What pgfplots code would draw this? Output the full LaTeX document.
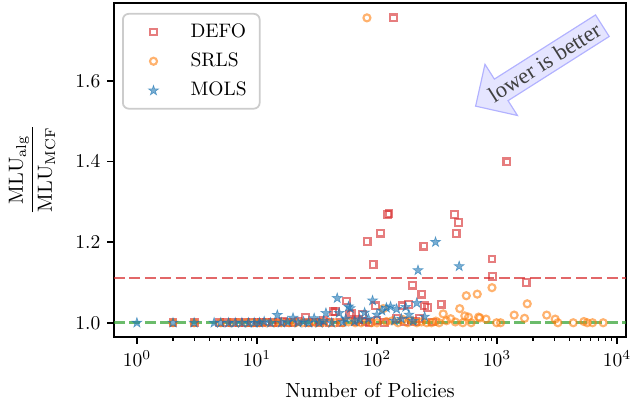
\documentclass[border=0pt]{standalone}
\usepackage{fontspec}
\newfontfamily\timesfont{Liberation Serif}
\usepackage{pgfplots}
\usepackage{pgfplotstable}
\pgfplotsset{compat=1.18}
\usetikzlibrary{shapes.arrows}
\definecolor{tabred}{HTML}{D62728}
\definecolor{taborange}{HTML}{FF7F0E}
\definecolor{tabblue}{HTML}{1F77B4}
\definecolor{tabgreen}{HTML}{2CA02C}

\pgfdeclareplotmark{fstar}{%
  \pgfpathmoveto{\pgfpointpolar{90}{\pgfplotmarksize}}%
  \pgfpathlineto{\pgfpointpolar{126}{0.382\pgfplotmarksize}}%
  \pgfpathlineto{\pgfpointpolar{162}{\pgfplotmarksize}}%
  \pgfpathlineto{\pgfpointpolar{198}{0.382\pgfplotmarksize}}%
  \pgfpathlineto{\pgfpointpolar{234}{\pgfplotmarksize}}%
  \pgfpathlineto{\pgfpointpolar{270}{0.382\pgfplotmarksize}}%
  \pgfpathlineto{\pgfpointpolar{306}{\pgfplotmarksize}}%
  \pgfpathlineto{\pgfpointpolar{342}{0.382\pgfplotmarksize}}%
  \pgfpathlineto{\pgfpointpolar{18}{\pgfplotmarksize}}%
  \pgfpathlineto{\pgfpointpolar{54}{0.382\pgfplotmarksize}}%
  \pgfpathclose
  \pgfusepathqfillstroke}

\pgfplotstableread{
x y
2 1.000
3 1.000
4.9 1.000
5.6 1.000
6.3 1.000
7.1 1.000
8 1.000
9 1.001
10 1.000
11 1.000
12 1.002
13.5 1.000
15 1.000
16.5 1.003
18 1.000
20 1.000
22 1.004
25.3 1.014
27 1.000
30 1.002
33 1.000
36 1.005
40 1.000
43 1.027
45 1.027
50 1.000
55.9 1.054
59.4 1.020
62 1.024
66 1.003
70 1.008
76 1.021
80 1.002
83 1.202
86 1.000
93 1.145
97 1.042
100 1.005
107 1.222
115 1.000
123 1.268
126 1.270
138 1.756
145 1.010
162 1.042
170 1.003
184 1.045
198 1.093
210 1.003
225 1.010
237 1.071
246 1.190
250 1.042
266 1.038
290 1.002
343 1.046
444 1.268
458 1.221
479 1.249
910 1.158
915 1.115
1210 1.399
1755 1.100
}\defo

\pgfplotstableread{
x y
2 1.000
3 1.000
5 1.000
6 1.000
7 1.000
8.2 1.000
9.3 1.000
10.5 1.000
12 1.000
14 1.000
16 1.000
18.5 1.000
21 1.000
24 1.000
27 1.000
31 1.000
35 1.000
40 1.000
45 1.000
52 1.000
58 1.002
66 1.000
74 1.000
82.6 1.756
90 1.000
100 1.000
113 1.035
120 1.003
135 1.005
150 1.000
165 1.008
180 1.000
195 1.005
215 1.000
235 1.002
260 1.000
285 1.000
310 1.004
330 1.000
357 1.022
380 1.005
412 1.010
450 1.002
490 1.035
520 1.000
540 1.017
556 1.067
580 1.014
610 1.000
686 1.071
704 1.014
721 1.012
812 1.009
910 1.087
994 1.000
1073 1.000
1393 1.019
1700 1.011
1790 1.047
2600 1.019
3060 1.009
3220 1.000
4330 1.000
5310 1.003
5660 1.000
6270 1.000
7690 1.000
}\srls

\pgfplotstableread{
x y
1 1.000
2 1.000
3 1.000
4.4 1.000
5 1.000
5.8 1.000
6.6 1.000
7.5 1.000
8.5 1.000
9.5 1.000
10.5 1.000
11.5 1.003
13 1.000
14.8 1.019
16 1.000
18 1.002
20 1.012
22 1.000
24.5 1.003
27 1.000
30 1.011
33 1.000
36 1.004
37.6 1.024
42 1.000
46.7 1.061
48.5 1.024
52 1.002
55 1.010
58 1.040
60 1.036
65 1.003
72 1.008
79 1.025
85 1.010
92 1.055
100 1.020
110 1.030
120 1.037
130 1.040
140 1.005
146 1.034
160 1.010
174 1.039
185 1.020
200 1.004
215 1.049
220 1.130
250 1.015
308 1.200
485 1.140
}\mols

\begin{document}
\begin{tikzpicture}
\begin{axis}[
  scale only axis,
  width=262.6pt, height=171.3pt,
  xmode=log,
  xmin=0.645, xmax=11900,
  ymin=0.965, ymax=1.793,
  xtick={1,10,100,1000,10000},
  ytick={1.0,1.2,1.4,1.6},
  yticklabel style={/pgf/number format/.cd,fixed,fixed zerofill,precision=1},
  tick align=outside,
  xtick pos=bottom, ytick pos=left,
  major tick length=3.5pt,
  minor tick length=2pt,
  every tick/.style={black, line width=0.8pt},
  every minor tick/.style={black, line width=0.6pt},
  axis line style={line width=0.9pt},
  xlabel={Number of Policies},
  every axis x label/.style={at={(rel axis cs:0.5,0)}, yshift=-27.5pt, anchor=center, font=\fontsize{10.5}{12}\selectfont},
  ylabel={$\displaystyle\frac{\mathrm{MLU}_{\mathrm{alg}}}{\mathrm{MLU}_{\mathrm{MCF}}}$},
  every axis y label/.style={at={(rel axis cs:0,0.5)}, xshift=-42pt, rotate=90, anchor=center, font=\fontsize{10.5}{12}\selectfont},
  legend cell align=left,
  legend image code/.code={\path[draw=none,fill=none] (0pt,-2pt) rectangle (22pt,2pt); \path[#1,draw=none] plot coordinates {(11pt,0pt)};},
  legend style={at={(rel axis cs:0.0156,0.970)}, anchor=north west,
    draw=black!20, line width=0.9pt, rounded corners=3pt,
    font=\fontsize{10}{12}\selectfont,
    inner xsep=4.7pt, inner ysep=3pt, row sep=2.5pt,
    /tikz/every odd column/.append style={column sep=6pt}},
]
\addplot[tabgreen, opacity=0.7, line width=1.5pt, dash pattern=on 5.5pt off 2.4pt, forget plot] coordinates {(0.645,1.0) (11900,1.0)};
\addplot[tabred, opacity=0.7, line width=1.5pt, dash pattern=on 5.5pt off 2.4pt, forget plot] coordinates {(0.645,1.111) (11900,1.111)};
\addplot[only marks, mark=square, mark size=1.7pt, tabred, mark options={draw=tabred, line width=1.1pt, opacity=0.6}] table[x=x,y=y] {\defo};
\addlegendentry{DEFO}
\addplot[only marks, mark=o, mark size=1.8pt, taborange, mark options={draw=taborange, line width=1.1pt, opacity=0.6}] table[x=x,y=y] {\srls};
\addlegendentry{SRLS}
\addplot[only marks, mark=fstar, mark size=2.7pt, tabblue, mark options={draw=tabblue, line width=0.3pt, fill=tabblue, opacity=0.6}] table[x=x,y=y] {\mols};
\addlegendentry{MOLS}
\node[single arrow, shape border rotate=180, rotate=32.4, anchor=tip,
  fill=blue!10, draw=blue!30, line width=0.6pt, text=black!75,
  font=\timesfont\fontsize{11.5}{13}\selectfont,
  inner xsep=2pt, inner ysep=2.2pt, minimum height=77pt,
  single arrow head extend=9pt, single arrow tip angle=90]
  at (axis cs:656,1.536) {lower is better};
\end{axis}
\pgfresetboundingbox
\path[use as bounding box] ([shift={(-58.5pt,-35.9pt)}]current axis.south west) rectangle ([shift={(3.1pt,1.5pt)}]current axis.north east);
\end{tikzpicture}
\end{document}
